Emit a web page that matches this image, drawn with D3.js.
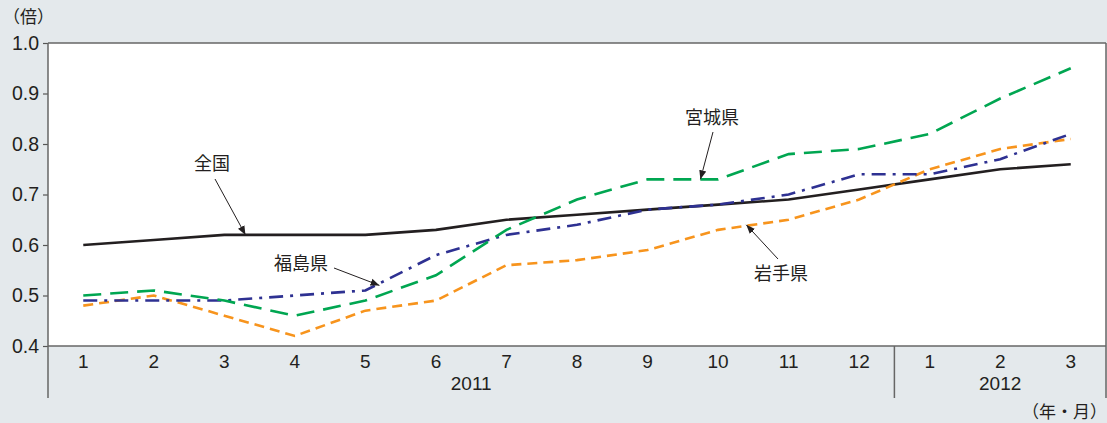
<!DOCTYPE html>
<html>
<head>
<meta charset="utf-8">
<script src="https://cdn.jsdelivr.net/npm/d3@7"></script>
<style>
  body { margin: 0; background: #e4e9ec; }
  svg { display: block; font-family: "Liberation Sans", Arial, "Noto Sans CJK JP", sans-serif; }
  .jp { font-family: "Noto Sans CJK JP", sans-serif; }
</style>
</head>
<body>
<div id="chart"></div>
<script>
// months along the x axis
var months = ['1','2','3','4','5','6','7','8','9','10','11','12','1','2','3'];
var years = [{label: '2011', from: 0, to: 11}, {label: '2012', from: 12, to: 14}];
var yTicks = [0.4, 0.5, 0.6, 0.7, 0.8, 0.9, 1.0];

var zenkoku   = [0.60, 0.61, 0.62, 0.62, 0.62, 0.63, 0.65, 0.66, 0.67, 0.68, 0.69, 0.71, 0.73, 0.75, 0.76];
var miyagi    = [0.50, 0.51, 0.49, 0.46, 0.49, 0.54, 0.63, 0.69, 0.73, 0.73, 0.78, 0.79, 0.82, 0.89, 0.95];
var fukushima = [0.49, 0.49, 0.49, 0.50, 0.51, 0.58, 0.62, 0.64, 0.67, 0.68, 0.70, 0.74, 0.74, 0.77, 0.82];
var iwate     = [0.48, 0.50, 0.46, 0.42, 0.47, 0.49, 0.56, 0.57, 0.59, 0.63, 0.65, 0.69, 0.75, 0.79, 0.81];

var series = [
  {name: '全国', values: zenkoku, color: '#231f20', dash: null},
  {name: '岩手県', values: iwate, color: '#f7941d', dash: '10,6'},
  {name: '福島県', values: fukushima, color: '#2e3192', dash: '14,7,3,7'},
  {name: '宮城県', values: miyagi, color: '#00a651', dash: '18,9'}
];

// labels with arrows: text position, arrow start, arrow target (month idx, value)
var notes = [
  {name: '全国', tx: 212, ty: 170, ax: 215, ay: 179, mi: 2.3, v: 0.62},
  {name: '宮城県', tx: 712, ty: 124, ax: 713, ay: 132, mi: 8.75, v: 0.73},
  {name: '福島県', tx: 301, ty: 270, ax: 334, ay: 268, mi: 4.2, v: 0.52},
  {name: '岩手県', tx: 781, ty: 280, ax: 778, ay: 259, mi: 9.4, v: 0.64}
];

var width = 1107, height = 423;
var pLeft = 48, pRight = 1106, pTop = 43, pBottom = 346;

var svg = d3.select('#chart').append('svg')
  .attr('width', width)
  .attr('height', height);

svg.append('defs').append('marker')
  .attr('id', 'arrow')
  .attr('viewBox', '0 0 10 10')
  .attr('refX', 10).attr('refY', 5)
  .attr('markerWidth', 9).attr('markerHeight', 9)
  .attr('markerUnits', 'userSpaceOnUse')
  .attr('orient', 'auto')
  .append('path').attr('d', 'M0,1L10,5L0,9z').attr('fill', '#231f20');

var x = d3.scaleBand().domain(d3.range(months.length)).range([pLeft, pRight]);
var y = d3.scaleLinear().domain([0.4, 1.0]).range([pBottom, pTop]);

// plot area
svg.append('rect')
  .attr('x', pLeft).attr('y', pTop)
  .attr('width', pRight - pLeft).attr('height', pBottom - pTop)
  .attr('fill', '#fff');

// y axis
var yAxis = d3.axisLeft(y).tickValues(yTicks).tickSize(5).tickFormat(d3.format('.1f'));
var gy = svg.append('g').attr('transform', 'translate(' + pLeft + ',0)').call(yAxis);
gy.select('.domain').remove();
gy.selectAll('line').attr('stroke', '#555').attr('stroke-width', 1.2);
gy.selectAll('text').attr('font-size', 19.5).attr('fill', '#231f20').attr('x', -9)
  .attr('font-family', '"Liberation Sans", Arial, sans-serif');

// month labels
var xAxis = d3.axisBottom(x).tickSize(0).tickFormat(function(i){ return months[i]; });
var gx = svg.append('g').attr('transform', 'translate(0,' + pBottom + ')').call(xAxis);
gx.select('.domain').remove();
gx.selectAll('text').attr('font-size', 19).attr('fill', '#231f20').attr('dy', '1.0em')
  .attr('font-family', '"Liberation Sans", Arial, sans-serif');

// year labels
svg.selectAll('.year')
  .data(years).enter()
  .append('text')
  .attr('class', 'year')
  .attr('x', function(d){ return (x(d.from) + x(d.to) + x.bandwidth()) / 2; })
  .attr('y', 390)
  .attr('text-anchor', 'middle')
  .attr('font-size', 19)
  .attr('fill', '#231f20')
  .text(function(d){ return d.label; });

// frame lines
var frame = svg.append('g').attr('stroke', '#666').attr('stroke-width', 1.5).attr('fill', 'none');
frame.append('line').attr('x1', pLeft).attr('x2', pRight).attr('y1', pTop).attr('y2', pTop);
frame.append('line').attr('x1', pLeft).attr('x2', pRight).attr('y1', pBottom).attr('y2', pBottom);
frame.append('line').attr('x1', pLeft).attr('x2', pLeft).attr('y1', pTop).attr('y2', 398);
frame.append('line').attr('x1', pRight).attr('x2', pRight).attr('y1', pTop).attr('y2', 398);
frame.append('line').attr('x1', x(12)).attr('x2', x(12)).attr('y1', pBottom).attr('y2', 398);

// lines
var line = d3.line()
  .x(function(d, i){ return x(i) + x.bandwidth() / 2; })
  .y(function(d){ return y(d); });

svg.selectAll('.series')
  .data(series).enter()
  .append('path')
  .attr('class', 'series')
  .attr('d', function(d){ return line(d.values); })
  .attr('fill', 'none')
  .attr('stroke', function(d){ return d.color; })
  .attr('stroke-width', 2.6)
  .attr('stroke-dasharray', function(d){ return d.dash; });

// annotations
var xc = function(mi){ return x(0) + x.bandwidth() / 2 + mi * x.step(); };
svg.selectAll('.arrow')
  .data(notes).enter()
  .append('line')
  .attr('x1', function(d){ return d.ax; })
  .attr('y1', function(d){ return d.ay; })
  .attr('x2', function(d){ return xc(d.mi); })
  .attr('y2', function(d){ return y(d.v); })
  .attr('stroke', '#231f20')
  .attr('stroke-width', 1)
  .attr('marker-end', 'url(#arrow)');

svg.selectAll('.note')
  .data(notes).enter()
  .append('text')
  .attr('class', 'jp')
  .attr('x', function(d){ return d.tx; })
  .attr('y', function(d){ return d.ty; })
  .attr('text-anchor', 'middle')
  .attr('font-size', 18)
  .attr('fill', '#231f20')
  .text(function(d){ return d.name; });

// unit labels
svg.append('text').attr('class', 'jp').attr('x', 3).attr('y', 23)
  .attr('font-size', 17).attr('fill', '#231f20').text('（倍）');
svg.append('text').attr('class', 'jp').attr('x', 1107).attr('y', 418)
  .attr('text-anchor', 'end').attr('font-size', 17).attr('fill', '#231f20').text('（年・月）');
</script>
</body>
</html>
